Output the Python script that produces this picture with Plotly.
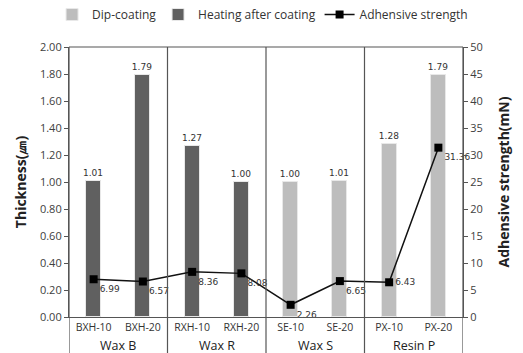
import plotly.graph_objects as go

# Sample names, groups and measurements
categories = ["BXH-10", "BXH-20", "RXH-10", "RXH-20", "SE-10", "SE-20", "PX-10", "PX-20"]
groups = ["Wax B", "Wax B", "Wax R", "Wax R", "Wax S", "Wax S", "Resin P", "Resin P"]
dip_coating = [None, None, None, None, 1.00, 1.01, 1.28, 1.79]
heating_after = [1.01, 1.79, 1.27, 1.00, None, None, None, None]
adhesive = [6.99, 6.57, 8.36, 8.08, 2.26, 6.65, 6.43, 31.36]
left_ticks = [0, 0.2, 0.4, 0.6, 0.8, 1.0, 1.2, 1.4, 1.6, 1.8, 2.0]
right_ticks = [0, 5, 10, 15, 20, 25, 30, 35, 40, 45, 50]

xpos = list(range(len(categories)))
line_color = "#555555"
tick_font = dict(family="Open Sans", size=11, color="#404040")
label_font = dict(family="DejaVu Sans", size=9, color="#333333")
legend_font = dict(family="Open Sans", size=12, color="#333333")

fig = go.Figure()

fig.add_trace(go.Bar(
    x=xpos, y=dip_coating, name="Dip-coating", legend="legend",
    marker=dict(color="#bdbdbd", line=dict(color="#e8e8e8", width=1)),
    width=0.3,
    text=[None if v is None else f"{v:.2f}" for v in dip_coating],
    textposition="outside", textfont=label_font, constraintext="none", cliponaxis=False,
))
fig.add_trace(go.Bar(
    x=xpos, y=heating_after, name="Heating after coating", legend="legend2",
    marker=dict(color="#606060", line=dict(color="#e8e8e8", width=1)),
    width=0.3,
    text=[None if v is None else f"{v:.2f}" for v in heating_after],
    textposition="outside", textfont=label_font, constraintext="none", cliponaxis=False,
))

positions = ["bottom right"] * len(adhesive)
positions[6] = "middle right"
fig.add_trace(go.Scatter(
    x=xpos, y=adhesive, name="Adhensive strength", yaxis="y2", legend="legend3",
    mode="lines+markers+text",
    line=dict(color="#111111", width=1.5),
    marker=dict(symbol="square", size=8, color="#000000"),
    text=[f"{v:.2f}" for v in adhesive], textposition=positions,
    textfont=label_font, cliponaxis=False,
))

# Group dividers, outer frame extensions and group names
group_names = []
for g in groups:
    if g not in group_names:
        group_names.append(g)
shapes = []
annotations = []
bounds = [-0.5]
for g in group_names:
    idx = [i for i, gg in enumerate(groups) if gg == g]
    bounds.append(idx[-1] + 0.5)
    annotations.append(dict(
        x=(idx[0] + idx[-1]) / 2, y=-0.104, xref="x", yref="paper",
        text=g, showarrow=False, yanchor="middle",
        font=dict(family="Open Sans", size=12.5, color="#222222"),
    ))
for b in bounds:
    shapes.append(dict(
        type="line", xref="x", yref="paper", x0=b, x1=b, y0=-0.135, y1=1,
        line=dict(color=line_color, width=1.2),
    ))
shapes.append(dict(
    type="line", xref="paper", yref="paper", x0=0, x1=1, y0=1, y1=1,
    line=dict(color=line_color, width=1.2),
))


def legend_box(x):
    return dict(orientation="h", x=x, xanchor="left", y=1.0, yanchor="top", yref="container",
                font=legend_font, itemwidth=30, bgcolor="rgba(0,0,0,0)")


fig.update_layout(
    width=523, height=353,
    margin=dict(l=69, r=60, t=47, b=36, autoexpand=False),
    paper_bgcolor="white", plot_bgcolor="white",
    barmode="overlay",
    bargap=0,
    showlegend=True,
    legend=legend_box(-0.043),
    legend2=legend_box(0.226),
    legend3=legend_box(0.636),
    xaxis=dict(
        tickvals=xpos, ticktext=categories, range=[-0.5, len(categories) - 0.5],
        showgrid=False, zeroline=False, showline=True, linecolor=line_color, linewidth=1.2,
        ticks="", tickfont=dict(family="Open Sans", size=10.5, color="#333333"),
    ),
    yaxis=dict(
        range=[0, 2], tickvals=left_ticks, tickformat=".2f",
        showgrid=False, zeroline=False, showline=True, linecolor=line_color, linewidth=1.2,
        ticks="outside", ticklen=4, tickcolor=line_color, tickfont=tick_font,
        title=dict(text="Thickness(㎛)", standoff=10,
                   font=dict(family="Open Sans", size=14, color="#222222", weight="bold")),
    ),
    yaxis2=dict(
        range=[0, 50], tickvals=right_ticks, overlaying="y", side="right",
        showgrid=False, zeroline=False, showline=True, linecolor=line_color, linewidth=1.2,
        ticks="outside", ticklen=4, tickcolor=line_color, tickfont=tick_font,
        title=dict(text="Adhensive strength(mN)", standoff=17,
                   font=dict(family="Open Sans", size=14, color="#222222", weight="bold")),
    ),
    shapes=shapes,
    annotations=annotations,
)

fig.write_html("out.html")
